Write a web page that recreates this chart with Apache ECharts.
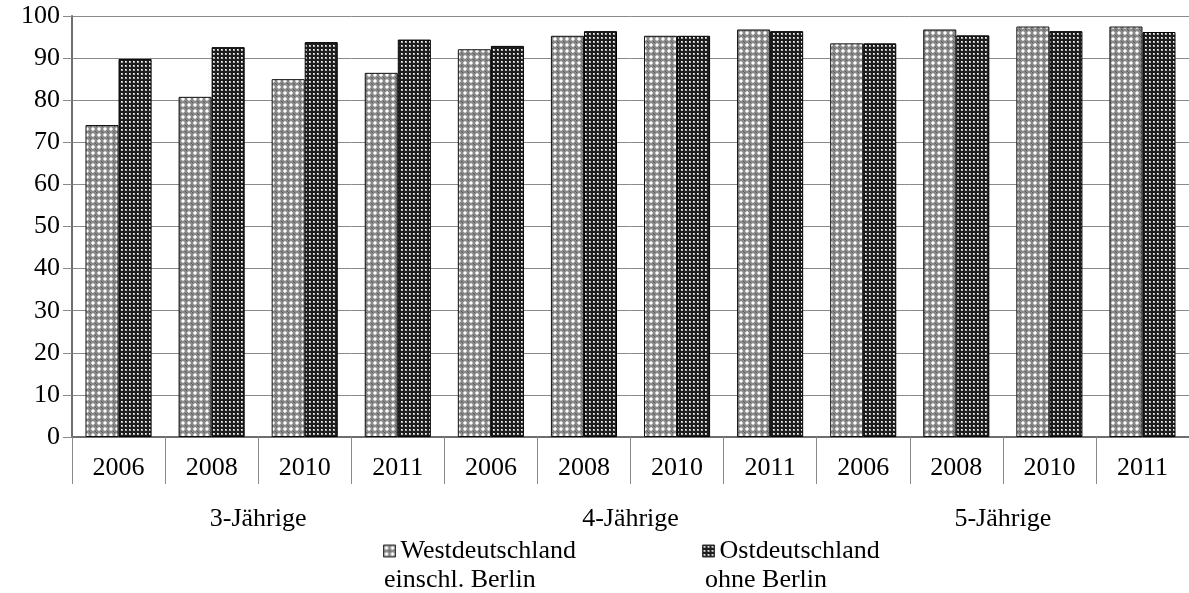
<!DOCTYPE html>
<html>
<head>
<meta charset="utf-8">
<script src="https://cdn.jsdelivr.net/npm/echarts@6/dist/echarts.min.js"></script>
<style>
html,body{margin:0;padding:0;background:#fff;}
#chart{width:1189px;height:593px;}
</style>
</head>
<body>
<div id="chart"></div>
<script>
var years = ['2006','2008','2010','2011','2006','2008','2010','2011','2006','2008','2010','2011'];
var groups = ['3-Jährige','4-Jährige','5-Jährige'];
var seriesNames = ['Westdeutschland','Ostdeutschland'];
var seriesSubNames = ['einschl. Berlin','ohne Berlin'];
var westValues = [74.1, 80.8, 85.0, 86.5, 92.1, 95.3, 95.3, 96.8, 93.5, 96.8, 97.5, 97.5];
var ostValues  = [89.8, 92.6, 93.8, 94.4, 92.9, 96.4, 95.3, 96.4, 93.5, 95.4, 96.4, 96.2];
var yTicks = { min: 0, max: 100, interval: 10 };

function makeWestPattern() {
  var c = document.createElement('canvas');
  c.width = 6; c.height = 6;
  var g = c.getContext('2d');
  g.fillStyle = '#8a8a8a'; g.fillRect(0,0,6,6);
  g.fillStyle = '#cfcfcf';
  g.fillRect(2,1,2,4); g.fillRect(1,2,4,2);
  g.fillStyle = '#ffffff';
  g.fillRect(2,2,2,2);
  g.fillStyle = '#555555';
  g.fillRect(0,0,1,1); g.fillRect(5,5,1,1);
  return c;
}
function makeOstPattern() {
  var c = document.createElement('canvas');
  c.width = 4; c.height = 4;
  var g = c.getContext('2d');
  g.fillStyle = '#1e1e1e'; g.fillRect(0,0,4,4);
  g.fillStyle = '#b4b4b4'; g.fillRect(1,1,2,2);
  g.fillStyle = '#ffffff'; g.fillRect(1,1,1,1);
  return c;
}

var font = '"Liberation Serif", "Times New Roman", serif';
var fs = 26;
var chart = echarts.init(document.getElementById('chart'));
chart.setOption({
  animation: false,
  backgroundColor: '#ffffff',
  grid: { left: 72, top: 16, width: 1121, height: 421, containLabel: false },
  legend: {
    left: 383, top: 537,
    padding: 0,
    itemWidth: 12, itemHeight: 12, itemGap: 126,
    icon: 'rect',
    data: seriesNames,
    itemStyle: { borderColor: '#333', borderWidth: 1 },
    textStyle: { fontFamily: font, fontSize: fs, color: '#000', lineHeight: 28 },
    selectedMode: false
  },
  graphic: [
    { type: 'text', left: 384, top: 567, style: { text: seriesSubNames[0], font: fs + 'px ' + font, fill: '#000' } },
    { type: 'text', left: 705, top: 567, style: { text: seriesSubNames[1], font: fs + 'px ' + font, fill: '#000' } }
  ],
  xAxis: [
    {
      type: 'category', data: years, position: 'bottom',
      axisLine: { show: true, lineStyle: { color: '#6e6e6e', width: 2 } },
      axisTick: { show: true, interval: 0, length: 47, lineStyle: { color: '#8a8a8a', width: 1 } },
      axisLabel: { interval: 0, margin: 18, fontFamily: font, fontSize: fs, color: '#000' }
    },
    {
      type: 'category', data: groups, position: 'bottom',
      axisLine: { show: false }, axisTick: { show: false },
      axisLabel: { interval: 0, margin: 69, fontFamily: font, fontSize: fs, color: '#000' }
    }
  ],
  yAxis: {
    type: 'value', min: yTicks.min, max: yTicks.max, interval: yTicks.interval,
    axisLine: { show: true, lineStyle: { color: '#6e6e6e', width: 2 } },
    axisTick: { show: true, length: 9, lineStyle: { color: '#8a8a8a' } },
    splitLine: { show: true, lineStyle: { color: '#8a8a8a', width: 1 } },
    axisLabel: { margin: 12, fontFamily: font, fontSize: fs, color: '#000' }
  },
  series: [
    {
      name: seriesNames[0], type: 'bar', xAxisIndex: 0, data: westValues,
      barGap: '0%', barCategoryGap: '29%',
      itemStyle: { color: { image: makeWestPattern(), repeat: 'repeat' }, borderColor: '#111', borderWidth: 1 }
    },
    {
      name: seriesNames[1], type: 'bar', xAxisIndex: 0, data: ostValues,
      barGap: '0%', barCategoryGap: '29%',
      itemStyle: { color: { image: makeOstPattern(), repeat: 'repeat' }, borderColor: '#000', borderWidth: 1 }
    }
  ]
});
</script>
</body>
</html>
